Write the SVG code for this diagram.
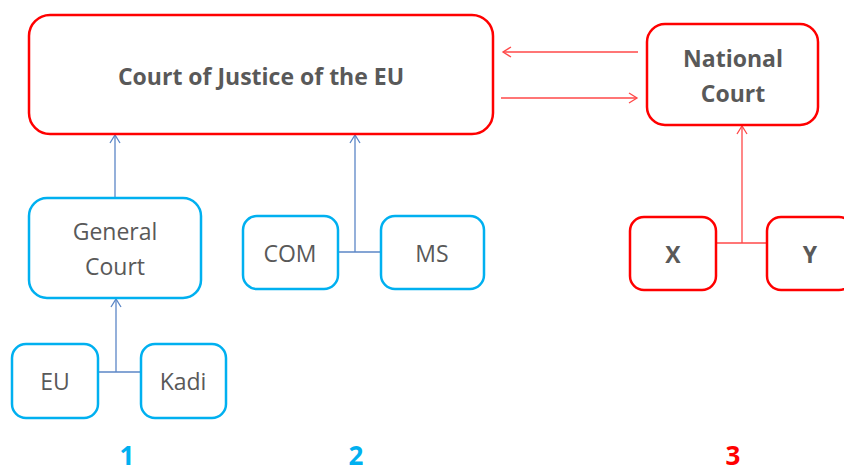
<svg xmlns="http://www.w3.org/2000/svg" width="844" height="472" viewBox="0 0 844 472">
<style>
.box-red{fill:#FFFFFF;stroke:#FF0000;stroke-width:2.5}
.box-blue{fill:#FFFFFF;stroke:#00B0F0;stroke-width:2.5}
.t{font-family:"Open Sans","Noto Sans","Liberation Sans",sans-serif;fill:#595959;font-size:23px;text-anchor:middle}
.b{font-weight:bold}
.c-blue{stroke:#5B86C6;stroke-width:1.3;fill:none}
.c-red{stroke:#FF4848;stroke-width:1.3;fill:none}
.num{font-family:"Open Sans","Noto Sans","Liberation Sans",sans-serif;font-weight:bold;font-size:26px;text-anchor:middle}
</style>
<defs>
<marker id="ab" markerUnits="userSpaceOnUse" markerWidth="14" markerHeight="14" refX="10" refY="6" orient="auto">
<path d="M2,1 L10,6 L2,11" fill="none" stroke="#5B86C6" stroke-width="1.3"/>
</marker>
<marker id="ar" markerUnits="userSpaceOnUse" markerWidth="14" markerHeight="14" refX="10" refY="6" orient="auto">
<path d="M2,1 L10,6 L2,11" fill="none" stroke="#FF4848" stroke-width="1.3"/>
</marker>
</defs>
<rect width="844" height="472" fill="#FFFFFF"/>
<g id="connectors">
<line class="c-red" x1="638" y1="52" x2="503" y2="52" marker-end="url(#ar)"/>
<line class="c-red" x1="501" y1="98" x2="637" y2="98" marker-end="url(#ar)"/>
<polyline class="c-red" points="716,243 767,243"/>
<line class="c-red" x1="742" y1="243" x2="742" y2="126" marker-end="url(#ar)"/>
<line class="c-blue" x1="115" y1="198" x2="115" y2="135" marker-end="url(#ab)"/>
<polyline class="c-blue" points="338,252 381,252"/>
<line class="c-blue" x1="355" y1="252" x2="355" y2="135" marker-end="url(#ab)"/>
<polyline class="c-blue" points="98,372 141,372"/>
<line class="c-blue" x1="116" y1="372" x2="116" y2="299" marker-end="url(#ab)"/>
</g>
<g id="cjeu">
<rect class="box-red" x="29" y="15" width="464" height="119" rx="21"/>
<text class="t b" x="261" y="85">Court of Justice of the EU</text>
</g>
<g id="national-court">
<rect class="box-red" x="647" y="24" width="171" height="101" rx="18"/>
<text class="t b" x="733" y="67">National</text>
<text class="t b" x="733" y="102">Court</text>
</g>
<g id="x">
<rect class="box-red" x="630" y="217" width="86" height="73" rx="14"/>
<text class="t b" x="673" y="263">X</text>
</g>
<g id="y">
<rect class="box-red" x="767" y="217" width="86" height="73" rx="14"/>
<text class="t b" x="810" y="263">Y</text>
</g>
<g id="general-court">
<rect class="box-blue" x="29" y="198" width="172" height="100" rx="18"/>
<text class="t" x="115" y="240">General</text>
<text class="t" x="115" y="275">Court</text>
</g>
<g id="com">
<rect class="box-blue" x="243" y="216" width="95" height="73" rx="14"/>
<text class="t" x="290" y="262">COM</text>
</g>
<g id="ms">
<rect class="box-blue" x="381" y="216" width="103" height="73" rx="14"/>
<text class="t" x="432" y="262">MS</text>
</g>
<g id="eu">
<rect class="box-blue" x="12" y="344" width="86" height="74" rx="14"/>
<text class="t" x="55" y="390">EU</text>
</g>
<g id="kadi">
<rect class="box-blue" x="141" y="344" width="85" height="74" rx="14"/>
<text class="t" x="183" y="390">Kadi</text>
</g>
<g id="labels">
<text class="num" x="127" y="465" fill="#00B0F0">1</text>
<text class="num" x="356" y="465" fill="#00B0F0">2</text>
<text class="num" x="733" y="465" fill="#FF0000">3</text>
</g>
</svg>
